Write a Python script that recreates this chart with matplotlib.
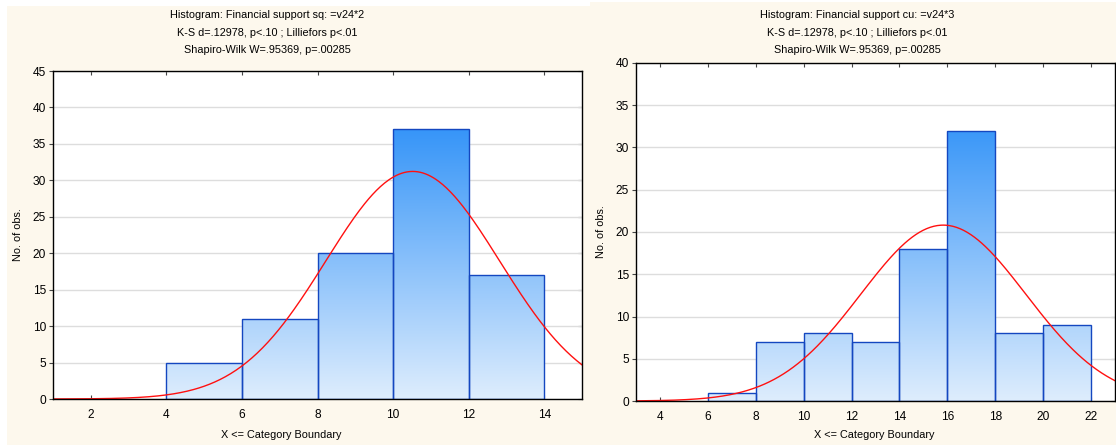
import numpy as np
import matplotlib.pyplot as plt
from matplotlib.colors import LinearSegmentedColormap
from matplotlib.patches import Rectangle

plt.rcParams['font.family'] = ['Liberation Sans', 'DejaVu Sans']

# left: Financial support sq
sq_edges = [2, 4, 6, 8, 10, 12, 14]
sq_counts = [0, 5, 11, 20, 37, 17]
sq_mean, sq_sd = 10.52, 2.30
sq_title = ["Histogram: Financial support sq: =v24*2",
            "K-S d=.12978, p<.10 ; Lilliefors p<.01",
            "Shapiro-Wilk W=.95369, p=.00285"]

# right: Financial support cu
cu_edges = [4, 6, 8, 10, 12, 14, 16, 18, 20, 22]
cu_counts = [0, 1, 7, 8, 7, 18, 32, 8, 9]
cu_mean, cu_sd = 15.83, 3.45
cu_title = ["Histogram: Financial support cu: =v24*3",
            "K-S d=.12978, p<.10 ; Lilliefors p<.01",
            "Shapiro-Wilk W=.95369, p=.00285"]

W, H = 1116, 445
cream = '#fdf8ed'
bar_edge = '#1447c0'
cmap = LinearSegmentedColormap.from_list('bars', ['#deedfd', '#1282f7'])
fs = 7.8

fig = plt.figure(figsize=(W/100, H/100), dpi=100)
fig.patch.set_facecolor('white')
fig.patches.append(Rectangle((7/W, 0), 583/W, 439/H, transform=fig.transFigure,
                             facecolor=cream, edgecolor='none', zorder=-5))
fig.patches.append(Rectangle((590/W, 0), 526/W, 443/H, transform=fig.transFigure,
                             facecolor=cream, edgecolor='none', zorder=-5))


def hist_panel(rect, edges, counts, mean, sd, xlim, ylim, title, title_x, lab_x, ylab_x):
    ax = fig.add_axes([rect[0]/W, 1 - rect[3]/H, (rect[2]-rect[0])/W, (rect[3]-rect[1])/H])
    ax.set_facecolor('white')
    width = edges[1] - edges[0]
    bars = ax.bar(edges[:-1], counts, width=width, align='edge',
                  facecolor='none', edgecolor=bar_edge, linewidth=1.0, zorder=3)
    grad = np.linspace(0, 1, 256).reshape(-1, 1)
    for b, c in zip(bars, counts):
        if c == 0:
            b.set_visible(False)
            continue
        im = ax.imshow(grad, cmap=cmap, origin='lower', aspect='auto',
                       extent=[xlim[0], xlim[1], 0, ylim[1]], zorder=2)
        im.set_clip_path(b)

    n = sum(counts)
    xs = np.linspace(xlim[0], xlim[1], 400)
    ys = n * width * np.exp(-0.5 * ((xs - mean) / sd) ** 2) / (sd * np.sqrt(2 * np.pi))
    ax.plot(xs, ys, color='#ff1010', lw=1.0, zorder=4)

    ax.set_xlim(*xlim)
    ax.set_ylim(*ylim)
    ax.set_xticks(np.arange(edges[0], edges[-1] + 1, 2))
    ax.set_yticks(np.arange(0, ylim[1] + 1, 5))
    ax.yaxis.grid(True, color='#dddddd', lw=1.0)
    ax.set_axisbelow(True)
    for s in ax.spines.values():
        s.set_color('black')
        s.set_linewidth(1.0)
        s.set_zorder(5)
    ax.tick_params(axis='x', direction='in', top=True, length=3, labelsize=8.6,
                   pad=7, color='#444444')
    ax.tick_params(axis='y', direction='out', right=False, length=3, labelsize=8.6,
                   pad=2, color='#444444')
    sec = ax.secondary_yaxis('right')
    sec.set_yticks(np.arange(0, ylim[1] + 1, 5))
    sec.tick_params(direction='in', length=3, labelright=False, color='#444444')
    sec.spines['right'].set_visible(False)

    for i, line in enumerate(title):
        fig.text(title_x/W, 1 - (15 + 17.5*i)/H, line, ha='center', va='center', fontsize=fs)
    fig.text(lab_x/W, 1 - 435/H, "X <= Category Boundary", ha='center', va='center', fontsize=fs)
    fig.text(ylab_x/W, 1 - ((rect[1] + rect[3]) / 2)/H, "No. of obs.", ha='center',
             va='center', rotation=90, fontsize=fs)
    return ax


hist_panel((53, 71, 582, 399), sq_edges, sq_counts, sq_mean, sq_sd, (1, 15), (0, 45),
           sq_title, 267, 281, 18)
hist_panel((636, 63, 1115, 401), cu_edges, cu_counts, cu_mean, cu_sd, (3, 23), (0, 40),
           cu_title, 857, 874, 601)

fig.savefig('out.png', dpi=100)
